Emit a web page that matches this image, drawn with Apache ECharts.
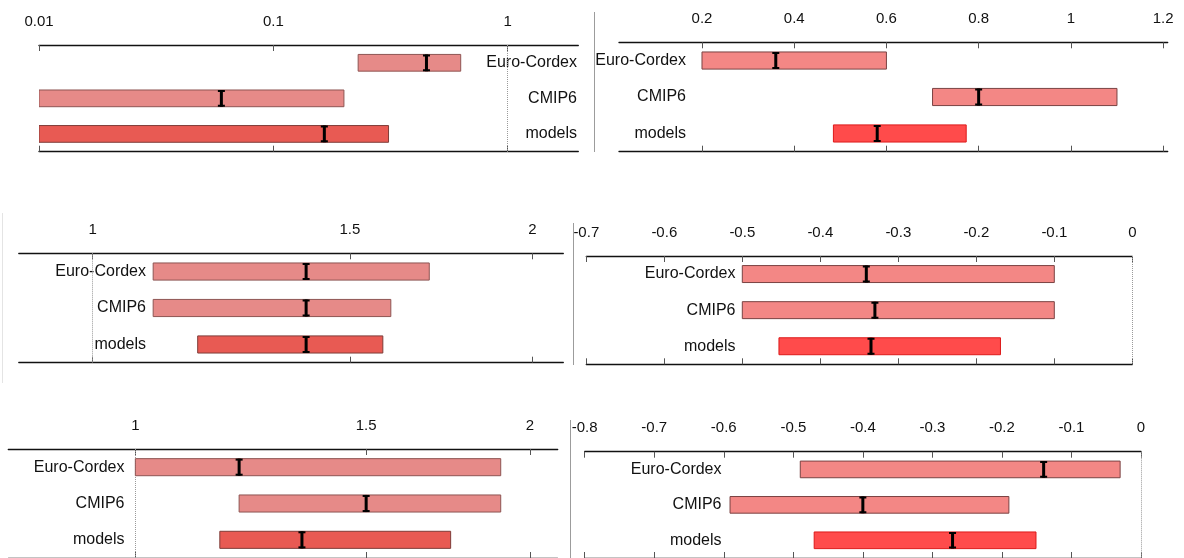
<!DOCTYPE html>
<html><head><meta charset="utf-8">
<script src="https://cdn.jsdelivr.net/npm/echarts@6/dist/echarts.min.js"></script>
<style>html,body{margin:0;padding:0;background:#fff}#c{width:1184px;height:558px}</style>
</head><body><div id="c"></div>
<script>
// ---------- data ----------
const categories = ['Euro-Cordex', 'CMIP6', 'models'];

// panel 1 (top-left, log axis)
const p1Low = [0.23, 0.01, 0.01];
const p1High = [0.63, 0.20, 0.31];
const p1Median = [0.45, 0.06, 0.165];
const p1Ticks = [0.01, 0.1, 1];

// panel 2 (top-right)
const p2Low = [0.2, 0.70, 0.485];
const p2High = [0.6, 1.10, 0.773];
const p2Median = [0.36, 0.80, 0.58];
const p2Ticks = [0.2, 0.4, 0.6, 0.8, 1, 1.2];

// panel 3 (middle-left, log axis)
const p3Low = [1.10, 1.10, 1.18];
const p3High = [1.70, 1.60, 1.58];
const p3Median = [1.40, 1.40, 1.40];
const p3Ticks = [1, 1.5, 2];

// panel 4 (middle-right)
const p4Low = [-0.50, -0.50, -0.453];
const p4High = [-0.10, -0.10, -0.169];
const p4Median = [-0.341, -0.330, -0.335];
const p4Ticks = [-0.7, -0.6, -0.5, -0.4, -0.3, -0.2, -0.1, 0];

// panel 5 (bottom-left, log axis)
const p5Low = [1.00, 1.20, 1.16];
const p5High = [1.90, 1.90, 1.74];
const p5Median = [1.20, 1.50, 1.34];
const p5Ticks = [1, 1.5, 2];

// panel 6 (bottom-right)
const p6Low = [-0.49, -0.591, -0.47];
const p6High = [-0.03, -0.19, -0.151];
const p6Median = [-0.14, -0.40, -0.271];
const p6Ticks = [-0.8, -0.7, -0.6, -0.5, -0.4, -0.3, -0.2, -0.1, 0];

// ---------- layout / style ----------
const panels = [
  {low: p1Low, high: p1High, med: p1Median, ticks: p1Ticks, type: 'log', min: 0.01, max: 2, ref: 1,
   left: 39, top: 45, width: 539.3, height: 106.7, labelRight: 577, scheme: 0},
  {low: p2Low, high: p2High, med: p2Median, ticks: p2Ticks, type: 'value', min: 0.02, max: 1.21, ref: null,
   left: 619, top: 42.3, width: 548.7, height: 109.4, labelRight: 686, scheme: 1},
  {low: p3Low, high: p3High, med: p3Median, ticks: p3Ticks, type: 'log', min: 0.89, max: 2.1, ref: 1,
   left: 18.8, top: 253.3, width: 544.5, height: 109.4, labelRight: 146, scheme: 0},
  {low: p4Low, high: p4High, med: p4Median, ticks: p4Ticks, type: 'value', min: -0.7, max: 0, ref: 0,
   left: 586.3, top: 256, width: 546, height: 108.3, labelRight: 735.5, scheme: 1},
  {low: p5Low, high: p5High, med: p5Median, ticks: p5Ticks, type: 'log', min: 0.8, max: 2.1, ref: 1,
   left: 8.3, top: 449, width: 549.4, height: 109.5, labelRight: 124.5, scheme: 0},
  {low: p6Low, high: p6High, med: p6Median, ticks: p6Ticks, type: 'value', min: -0.8, max: 0, ref: 0,
   left: 584.7, top: 451.7, width: 556.3, height: 110, labelRight: 721.5, scheme: 1}
];

const schemes = [
  {light: '#e68a88', lightStroke: '#8e5553', dark: '#e85a53', darkStroke: '#7e3c38'},
  {light: '#f38785', lightStroke: '#7a4343', dark: '#ff4b4b', darkStroke: '#dd1a1a'}
];

const FONT = '"Liberation Sans", Arial, Helvetica, sans-serif';

function makeRender(scheme) {
  return function (params, api) {
    const cat = api.value(0);
    const p0 = api.coord([api.value(1), cat]);
    const p1 = api.coord([api.value(2), cat]);
    const pm = api.coord([api.value(3), cat]);
    const band = params.coordSys.height / categories.length;
    const h = band * 0.47;
    const isModels = cat === 2;
    const fill = isModels ? scheme.dark : scheme.light;
    const stroke = isModels ? scheme.darkStroke : scheme.lightStroke;
    const y0 = p0[1] - h / 2;
    return {
      type: 'group',
      children: [
        {type: 'rect', shape: {x: p0[0], y: y0, width: p1[0] - p0[0], height: h},
         style: {fill: fill, stroke: stroke, lineWidth: 1}},
        {type: 'rect', shape: {x: pm[0] - 1.5, y: y0, width: 3, height: h}, style: {fill: '#000'}},
        {type: 'rect', shape: {x: pm[0] - 3.5, y: y0, width: 7, height: 2}, style: {fill: '#000'}},
        {type: 'rect', shape: {x: pm[0] - 3.5, y: y0 + h - 2, width: 7, height: 2}, style: {fill: '#000'}}
      ]
    };
  };
}

const grid = [], xAxis = [], yAxis = [], series = [];
panels.forEach(function (p, i) {
  grid.push({left: p.left, top: p.top, width: p.width, height: p.height, containLabel: false});
  const base = {
    type: p.type, gridIndex: i, min: p.min, max: p.max,
    axisLine: {show: true, onZero: false, lineStyle: {color: '#111', width: 1.3}},
    splitLine: {show: false}
  };
  if (p.type === 'log') base.logBase = 10;
  xAxis.push(Object.assign({}, base, {
    position: 'top',
    axisTick: {show: true, inside: true, length: 6, customValues: p.ticks, lineStyle: {color: '#555', width: 1}},
    axisLabel: {show: true, customValues: p.ticks, margin: 16, fontSize: 15, color: '#111', fontFamily: FONT,
      formatter: function (v) { return String(+v.toFixed(4)); }}
  }));
  xAxis.push(Object.assign({}, base, {
    position: 'bottom',
    axisTick: {show: true, inside: true, length: 6, customValues: p.ticks, lineStyle: {color: '#555', width: 1}},
    axisLabel: {show: false}
  }));
  yAxis.push({
    type: 'category', gridIndex: i, data: categories, inverse: true, position: 'left',
    offset: p.left - p.labelRight,
    axisLine: {show: false}, axisTick: {show: false}, splitLine: {show: false},
    axisLabel: {margin: 0, fontSize: 16, color: '#111', fontFamily: FONT, align: 'right'}
  });
  const data = categories.map(function (c, k) { return [k, p.low[k], p.high[k], p.med[k]]; });
  const s = {
    type: 'custom', xAxisIndex: 2 * i, yAxisIndex: i, renderItem: makeRender(schemes[p.scheme]),
    encode: {x: [1, 2, 3], y: 0}, data: data, clip: true, z: 3
  };
  if (p.ref !== null) {
    s.markLine = {silent: true, symbol: 'none', label: {show: false}, z: 1,
      lineStyle: {type: 'dotted', color: '#9a9a9a', width: 1}, data: [{xAxis: p.ref}]};
  }
  series.push(s);
});

const sepStyle = {stroke: '#9c9c9c', lineWidth: 1};
const graphic = [
  {type: 'line', shape: {x1: 594.5, y1: 12, x2: 594.5, y2: 152}, style: sepStyle},
  {type: 'line', shape: {x1: 573.5, y1: 223, x2: 573.5, y2: 365}, style: sepStyle},
  {type: 'line', shape: {x1: 570.5, y1: 420, x2: 570.5, y2: 558}, style: sepStyle},
  {type: 'line', shape: {x1: 2.5, y1: 213, x2: 2.5, y2: 383}, style: {stroke: '#e4e4e4', lineWidth: 1}}
];

const chart = echarts.init(document.getElementById('c'), null, {renderer: 'canvas'});
chart.setOption({
  animation: false,
  backgroundColor: '#fff',
  textStyle: {fontFamily: FONT},
  grid: grid, xAxis: xAxis, yAxis: yAxis, series: series, graphic: graphic
});
</script></body></html>
